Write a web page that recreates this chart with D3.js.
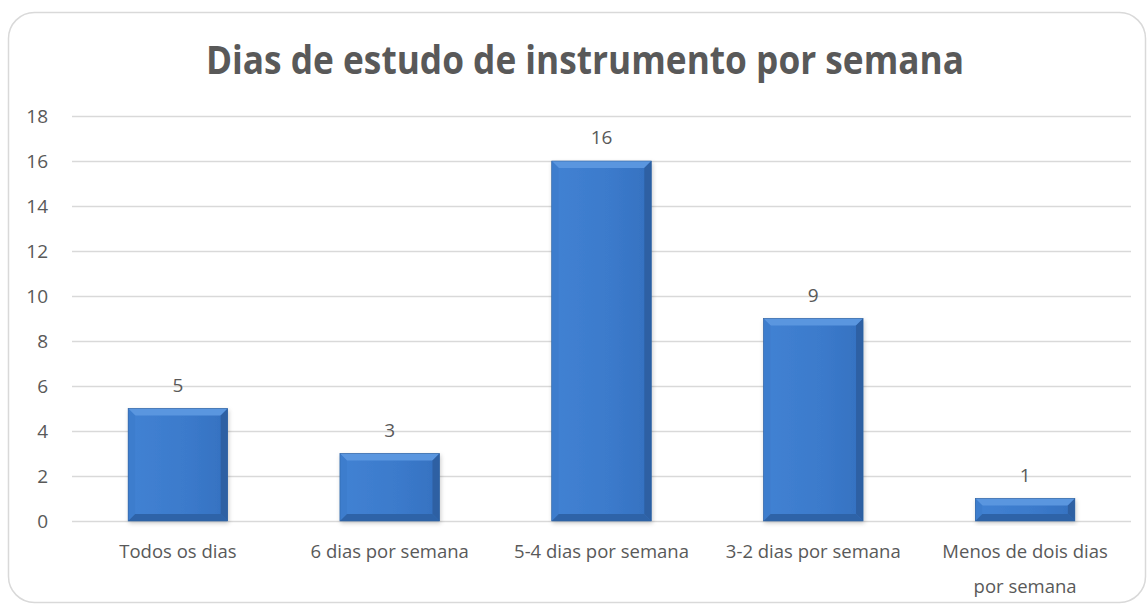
<!DOCTYPE html>
<html>
<head>
<meta charset="utf-8">
<script src="https://cdn.jsdelivr.net/npm/d3@7"></script>
<style>
  body { margin: 0; background: #fff; }
  svg text { font-family: "Open Sans", "Noto Sans", sans-serif; fill: #595959; }
</style>
</head>
<body>
<div id="chart"></div>
<script>
var categories = ["Todos os dias", "6 dias por semana", "5-4 dias por semana", "3-2 dias por semana", "Menos de dois dias por semana"];
var values = [5, 3, 16, 9, 1];
var yTicks = [0, 2, 4, 6, 8, 10, 12, 14, 16, 18];
var title = "Dias de estudo de instrumento por semana";

var W = 1147, H = 605;
var margin = { top: 116, right: 16, bottom: 84, left: 72 };
var width = W - margin.left - margin.right,
    height = H - margin.top - margin.bottom;

var svg = d3.select("#chart").append("svg")
    .attr("width", W)
    .attr("height", H);

var defs = svg.append("defs");
var g1 = defs.append("linearGradient").attr("id", "face").attr("x1", 0).attr("x2", 1).attr("y1", 0).attr("y2", 0);
g1.append("stop").attr("offset", "0%").attr("stop-color", "#4282d3");
g1.append("stop").attr("offset", "60%").attr("stop-color", "#3b7acb");
g1.append("stop").attr("offset", "100%").attr("stop-color", "#3571c0");
var filt = defs.append("filter").attr("id", "shadow").attr("x", "-10%").attr("y", "-10%").attr("width", "130%").attr("height", "130%");
filt.append("feDropShadow").attr("dx", 1).attr("dy", 2).attr("stdDeviation", 2).attr("flood-color", "#000").attr("flood-opacity", 0.2);

// chart border
svg.append("rect")
    .attr("x", 8.5).attr("y", 12.5)
    .attr("width", 1137).attr("height", 590)
    .attr("rx", 26)
    .attr("fill", "#fff")
    .attr("stroke", "#d9d9d9")
    .attr("stroke-width", 1.5);

svg.append("text")
    .attr("x", 585).attr("y", 74)
    .attr("text-anchor", "middle")
    .attr("textLength", 758)
    .attr("lengthAdjust", "spacingAndGlyphs")
    .style("font-size", "39px")
    .style("font-weight", "bold")
    .text(title);

var plot = svg.append("g")
    .attr("transform", "translate(" + margin.left + "," + margin.top + ")");

var x = d3.scaleBand().domain(categories).range([0, width]).paddingInner(0.53).paddingOuter(0.265);
var y = d3.scaleLinear().domain([0, 18]).range([height, 0]);

// gridlines
plot.append("g")
    .call(d3.axisLeft(y).tickValues(yTicks).tickSize(-width).tickFormat(""))
    .call((a) => a.select(".domain").remove())
    .selectAll("line")
    .attr("stroke", "#d9d9d9")
    .attr("stroke-width", 1.3);

// y labels
plot.append("g")
    .selectAll("text")
    .data(yTicks)
    .enter()
    .append("text")
    .attr("x", -24)
    .attr("y", (d) => y(d))
    .attr("dy", "0.36em")
    .attr("text-anchor", "end")
    .style("font-size", "19px")
    .text((d) => d);

// bars with bevel
var bars = plot.selectAll(".bar")
    .data(values)
    .enter()
    .append("g")
    .attr("class", "bar")
    .attr("filter", "url(#shadow)");

bars.each(function (d, i) {
    var gb = d3.select(this);
    var x0 = x(categories[i]), x1 = x0 + x.bandwidth();
    var y0 = y(d), y1 = y(0);
    var b = Math.min(7, (y1 - y0) / 2);
    gb.append("rect")
        .attr("x", x0).attr("y", y0)
        .attr("width", x1 - x0).attr("height", y1 - y0)
        .attr("fill", "url(#face)");
    var pts = (arr) => arr.map((p) => p.join(",")).join(" ");
    // top facet
    gb.append("polygon")
        .attr("points", pts([[x0, y0], [x1, y0], [x1 - b, y0 + b], [x0 + b, y0 + b]]))
        .attr("fill", "#5a96df");
    // left facet
    gb.append("polygon")
        .attr("points", pts([[x0, y0], [x0 + b, y0 + b], [x0 + b, y1 - b], [x0, y1]]))
        .attr("fill", "#3e7dcd");
    // right facet
    gb.append("polygon")
        .attr("points", pts([[x1, y0], [x1, y1], [x1 - b, y1 - b], [x1 - b, y0 + b]]))
        .attr("fill", "#2d60a3");
    // bottom facet
    gb.append("polygon")
        .attr("points", pts([[x0, y1], [x1, y1], [x1 - b, y1 - b], [x0 + b, y1 - b]]))
        .attr("fill", "#2f64a8");
    gb.append("rect")
        .attr("x", x0).attr("y", y0)
        .attr("width", x1 - x0).attr("height", y1 - y0)
        .attr("fill", "none")
        .attr("stroke", "#2f619f")
        .attr("stroke-width", 0.6);
});

// value labels
plot.selectAll(".val")
    .data(values)
    .enter()
    .append("text")
    .attr("class", "val")
    .attr("x", (d, i) => x(categories[i]) + x.bandwidth() / 2)
    .attr("y", (d) => y(d) - 17)
    .attr("text-anchor", "middle")
    .style("font-size", "19px")
    .text((d) => d);

// category labels, wrapped to the band step
var maxW = x.step() - 24;
plot.selectAll(".cat")
    .data(categories)
    .enter()
    .append("text")
    .attr("class", "cat")
    .attr("x", (d) => x(d) + x.bandwidth() / 2)
    .attr("y", height + 37)
    .attr("text-anchor", "middle")
    .style("font-size", "18.5px")
    .each(function (d) {
        var t = d3.select(this);
        var words = d.split(" "), line = [];
        var tspan = t.append("tspan").attr("x", t.attr("x")).attr("dy", 0);
        words.forEach((w) => {
            line.push(w);
            tspan.text(line.join(" "));
            if (tspan.node().getComputedTextLength() > maxW && line.length > 1) {
                line.pop();
                tspan.text(line.join(" "));
                line = [w];
                tspan = t.append("tspan").attr("x", t.attr("x")).attr("dy", 35).text(w);
            }
        });
    });
</script>
</body>
</html>
